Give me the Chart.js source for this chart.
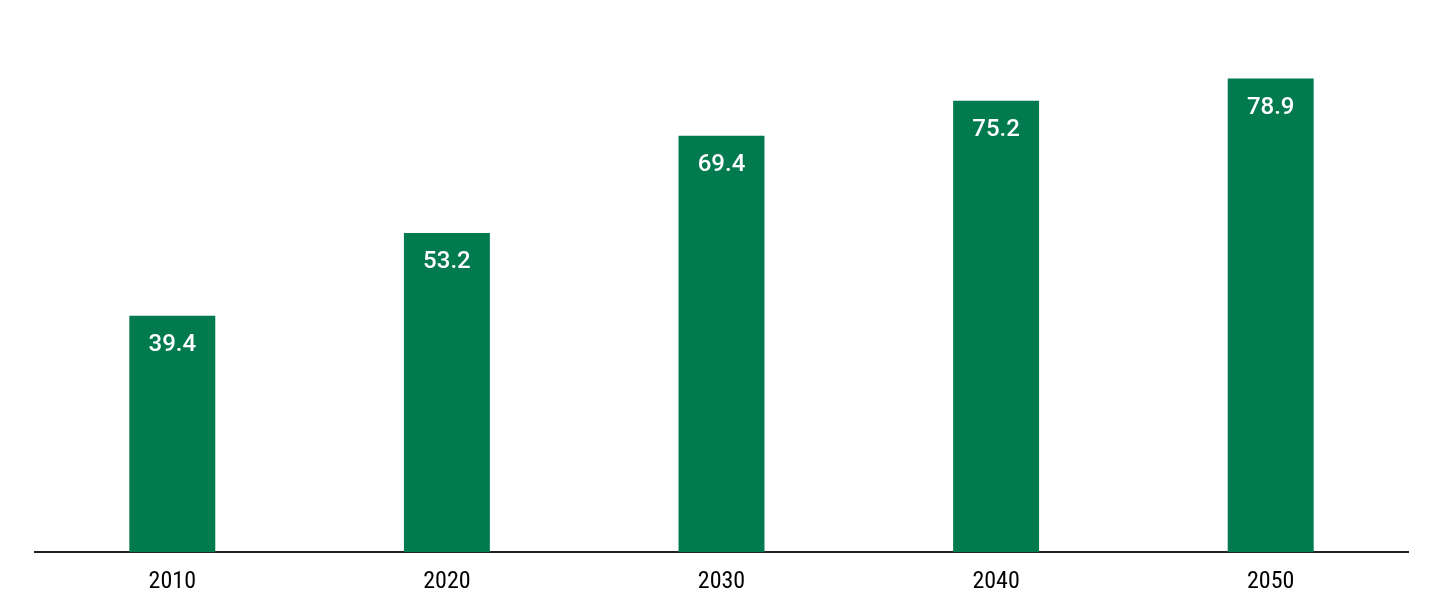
<!DOCTYPE html>
<html>
<head>
<meta charset="utf-8">
<script src="https://cdn.jsdelivr.net/npm/chart.js@4"></script>
<style>
  html, body { margin: 0; padding: 0; background: #fff; }
  #wrap { width: 1440px; height: 605px; }
</style>
</head>
<body>
<div id="wrap"><canvas id="myChart"></canvas></div>
<script>
const years = ['2010', '2020', '2030', '2040', '2050'];
const values = [39.4, 53.2, 69.4, 75.2, 78.9];

// white value label inside the top of each bar
const barLabels = {
    id: 'barLabels',
    afterDatasetsDraw(chart) {
        const ctx = chart.ctx;
        const meta = chart.getDatasetMeta(0);
        ctx.save();
        ctx.fillStyle = '#ffffff';
        ctx.font = '500 24px Roboto';
        ctx.fontStretch = 'normal';
        ctx.textAlign = 'center';
        ctx.textBaseline = 'middle';
        meta.data.forEach(function (bar, i) {
            ctx.fillText(values[i].toFixed(1), bar.x, bar.y + 29);
        });
        ctx.restore();
    }
};

document.addEventListener("DOMContentLoaded", function () {
    const ctx = document.getElementById('myChart');

    new Chart(ctx, {
        type: 'bar',
        data: {
            labels: years,
            datasets: [{
                data: values,
                backgroundColor: '#007a4e',
                borderWidth: 0,
                barPercentage: 0.313,
                categoryPercentage: 1
            }]
        },
        options: {
            responsive: true,
            maintainAspectRatio: false,
            animation: false,
            layout: { padding: { left: 35, right: 32, top: 12, bottom: -6 } },
            plugins: { legend: { display: false }, tooltip: { enabled: false } },
            scales: {
                x: {
                    grid: { display: false, drawTicks: false },
                    border: { color: '#222', width: 2 },
                    ticks: {
                        color: '#000',
                        padding: 15,
                        font: {
                            family: "'Roboto Condensed', 'Liberation Sans Narrow', Roboto, sans-serif",
                            weight: 'normal condensed',
                            size: 24
                        }
                    }
                },
                y: {
                    display: false,
                    min: 0,
                    max: 90
                }
            }
        },
        plugins: [barLabels]
    });
});
</script>
</body>
</html>
